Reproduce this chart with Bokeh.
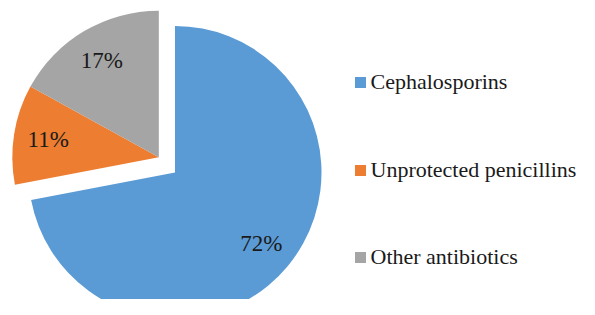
import numpy as np
from bokeh.plotting import figure
from bokeh.models import ColumnDataSource, Range1d
from bokeh.core.properties import value
from bokeh.embed import file_html
from bokeh.resources import INLINE

categories = ["Cephalosporins", "Unprotected penicillins", "Other antibiotics"]
shares = [72, 11, 17]
labels = ["72%", "11%", "17%"]
colors = ["#5B9BD5", "#ED7D31", "#A5A5A5"]

W, H = 579, 299
p = figure(width=W, height=H, output_backend="svg", toolbar_location=None,
           x_range=Range1d(0, W), y_range=Range1d(0, H), min_border=0)
p.axis.visible = False
p.grid.visible = False
p.outline_line_color = None
p.background_fill_color = "white"

FONT = value("Liberation Serif")

# pie geometry (pixels in figure data space, y up)
main_center = (174.5, H - 172.0)
other_center = (158.3, H - 156.7)
radius = 146.5
label_r = 112.0

fr = np.array(shares, dtype=float) / sum(shares)
cum = np.concatenate([[0], np.cumsum(fr)])
theta0 = cum[:-1] * 2 * np.pi  # clockwise from top
theta1 = cum[1:] * 2 * np.pi
start = np.pi / 2 - theta0
end = np.pi / 2 - theta1
mid = (theta0 + theta1) / 2
cx = [main_center[0] if i == 0 else other_center[0] for i in range(3)]
cy = [main_center[1] if i == 0 else other_center[1] for i in range(3)]
lx = [cx[i] + label_r * np.sin(mid[i]) for i in range(3)]
ly = [cy[i] + label_r * np.cos(mid[i]) for i in range(3)]

src = ColumnDataSource(dict(x=cx, y=cy, start=start, end=end, color=colors,
                            lx=lx, ly=ly, label=labels, cat=categories))
p.wedge(x="x", y="y", radius=radius, start_angle="start", end_angle="end",
        direction="clock", fill_color="color", line_color=None, source=src)
p.text(x="lx", y="ly", text="label", source=src, text_align="center",
       text_baseline="middle", text_font=FONT,
       text_font_size="23px", text_color="#1a1a1a")

# legend
leg_x = 360.0
leg_y = [H - 82.0, H - 170.0, H - 257.0]
lsrc = ColumnDataSource(dict(x=[leg_x] * 3, y=leg_y, tx=[leg_x + 10.0] * 3,
                             ty=[v + 1 for v in leg_y], cat=categories, color=colors))
p.rect(x="x", y="y", width=11, height=11, fill_color="color", line_color=None, source=lsrc)
p.text(x="tx", y="ty", text="cat", source=lsrc, text_align="left",
       text_baseline="middle", text_font=FONT,
       text_font_size="22px", text_color="#1a1a1a")

open("out.html", "w").write(file_html(p, INLINE))
